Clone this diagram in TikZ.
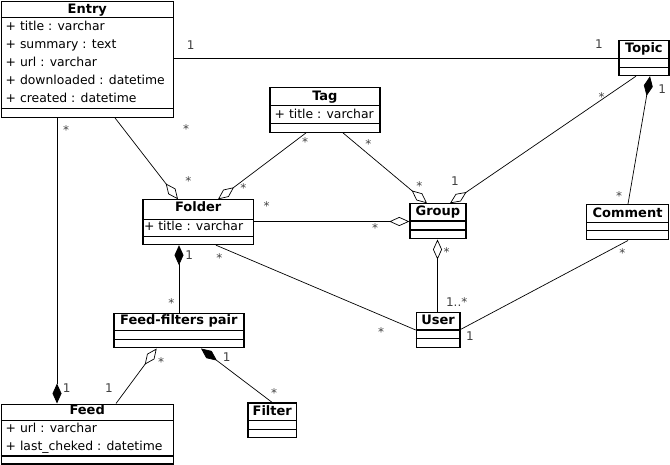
\documentclass[tikz,border=0pt]{standalone}
\usepackage{fontspec}
\setmainfont{DejaVu Sans}
\usetikzlibrary{arrows.meta}

\tikzset{
  classbox/.style={draw, line width=1.2pt, rectangle, inner sep=0pt, anchor=north west},
  sepline/.style={line width=1.2pt},
  ctitle/.style={font=\fontsize{13}{15}\selectfont\bfseries, anchor=base, inner sep=0pt},
  cattr/.style={font=\fontsize{12.4}{14}\selectfont, anchor=base west, inner sep=0pt},
  mult/.style={font=\fontsize{12}{14}\selectfont, text=black!75, anchor=base, inner sep=0pt},
  assoc/.style={line width=0.7pt},
  aggr/.style={assoc, -{Diamond[open, length=20pt, width=9pt]}},
  comp/.style={assoc, -{Diamond[length=20pt, width=9pt]}},
}

% UML class frame: name, x, y (top), width, title / attribute / operation heights
\newcommand{\umlclass}[7]{%
  \node[classbox, minimum width=#4pt, minimum height={(#5+#6+#7)*1pt}] (#1) at (#2,#3) {};
  \draw[sepline] (#1.north west) ++(0,#5) -- ++(#4,0);
  \draw[sepline] (#1.north west) ++(0,#5+#6) -- ++(#4,0);
}

\begin{document}
\begin{tikzpicture}[x=1pt, y=-1pt]
\useasboundingbox (0,0) rectangle (670,465);

% classes
\umlclass{entry}{0.6}{0.7}{172.2}{16.6}{91}{8.4}
\umlclass{tag}{269.3}{87.3}{110}{18}{18}{8.4}
\umlclass{folder}{142.3}{199.3}{110.7}{20}{17.4}{7.3}
\umlclass{group}{409.3}{203.3}{56}{17.7}{9}{8.3}
\umlclass{topic}{618.3}{40.3}{50}{18.4}{8.6}{7.7}
\umlclass{comment}{586}{204}{82}{18.7}{8}{8.6}
\umlclass{ffp}{113.3}{312.7}{130}{18}{8.6}{8}
\umlclass{feed}{0.6}{403.5}{172}{17.2}{35.3}{7.3}
\umlclass{filter}{247.3}{402.3}{48.7}{18.4}{8.6}{7.7}
\umlclass{user}{415.7}{312.3}{43.6}{17.7}{8.3}{9}

% class names
\node[ctitle] (entry-name) at (entry.north |- 0,13.3) {Entry};
\node[ctitle] (tag-name) at (tag.north |- 0,100.7) {Tag};
\node[ctitle] (folder-name) at (folder.north |- 0,211.7) {Folder};
\node[ctitle] (group-name) at (group.north |- 0,215.7) {Group};
\node[ctitle] (topic-name) at (topic.north |- 0,52.7) {Topic};
\node[ctitle] (comment-name) at (comment.north |- 0,217.7) {Comment};
\node[ctitle] (ffp-name) at (ffp.north |- 0,325) {Feed-filters pair};
\node[ctitle] (feed-name) at (feed.north |- 0,414) {Feed};
\node[ctitle] (filter-name) at (filter.north |- 0,415) {Filter};
\node[ctitle] (user-name) at (user.north |- 0,325) {User};

% attributes
\node[cattr] (entry-a1) at (5.5,30.7) {+ title : varchar};
\node[cattr] (entry-a2) at (5.5,48.7) {+ summary : text};
\node[cattr] (entry-a3) at (5.5,66.7) {+ url : varchar};
\node[cattr] (entry-a4) at (5.5,84.7) {+ downloaded : datetime};
\node[cattr] (entry-a5) at (5.5,102.5) {+ created : datetime};
\node[cattr] (tag-a1) at (274.5,118.3) {+ title : varchar};
\node[cattr] (folder-a1) at (143.8,230.5) {+ title : varchar};
\node[cattr] (feed-a1) at (5.5,432.5) {+ url : varchar};
\node[cattr] (feed-a2) at (5.5,450.5) {+ last\_cheked : datetime};

% associations
\draw[assoc] (entry.east |- 0,58) -- (topic.west |- 0,58);
\draw[comp] (entry.south -| 57,0) -- (feed.north -| 57,0);
\draw[aggr] (entry.south -| 115,0) -- (folder.north -| 178,0);
\draw[aggr] (tag.south -| 306,0) -- (folder.north -| 218,0);
\draw[aggr] (tag.south -| 343,0) -- (group.north -| 427,0);
\draw[aggr] (topic.south -| 636,0) -- (group.north -| 450,0);
\draw[comp] (comment.north -| 628,0) -- (topic.south -| 650,0);
\draw[aggr] (folder.east |- 0,221.5) -- (group.west |- 0,221.5);
\draw[comp] (ffp.north -| 179,0) -- (folder.south -| 179,0);
\draw[assoc] (folder.south -| 216,0) -- (user.west |- 0,330);
\draw[aggr] (user.north -| 437.5,0) -- (group.south -| 437.5,0);
\draw[assoc] (comment.south -| 628,0) -- (user.east |- 0,329.5);
\draw[aggr] (feed.north -| 116,0) -- (ffp.south -| 156.7,0);
\draw[comp] (filter.north -| 272,0) -- (ffp.south -| 201,0);

% multiplicities
\node[mult] (m-et1) at (190.7,50) {1};
\node[mult] (m-et2) at (599,48.3) {1};
\node[mult] (m-ef1) at (66,134.3) {*};
\node[mult] (m-ef2) at (66.7,392.6) {1};
\node[mult] (m-eo1) at (186,133.7) {*};
\node[mult] (m-eo2) at (188.3,186) {*};
\node[mult] (m-to1) at (243.3,193) {*};
\node[mult] (m-to2) at (305,146.3) {*};
\node[mult] (m-tg1) at (368.3,149) {*};
\node[mult] (m-tg2) at (419.3,190.3) {*};
\node[mult] (m-pg1) at (601.7,102) {*};
\node[mult] (m-pg2) at (455,186) {1};
\node[mult] (m-pc1) at (662.3,93.3) {1};
\node[mult] (m-pc2) at (619,200.3) {*};
\node[mult] (m-og1) at (266.7,211) {*};
\node[mult] (m-og2) at (375,232.7) {*};
\node[mult] (m-of1) at (189.3,260) {1};
\node[mult] (m-of2) at (171.3,307.7) {*};
\node[mult] (m-ou1) at (219.3,263) {*};
\node[mult] (m-ou2) at (381,337) {*};
\node[mult] (m-gu1) at (446.7,257) {*};
\node[mult] (m-gu2) at (456.7,306.6) {1..*};
\node[mult] (m-cu1) at (622.3,258) {*};
\node[mult] (m-cu2) at (470,341) {1};
\node[mult] (m-pf1) at (161,366.3) {*};
\node[mult] (m-pf2) at (109,392) {1};
\node[mult] (m-pl1) at (226.7,361) {1};
\node[mult] (m-pl2) at (274,397) {*};
\end{tikzpicture}
\end{document}
